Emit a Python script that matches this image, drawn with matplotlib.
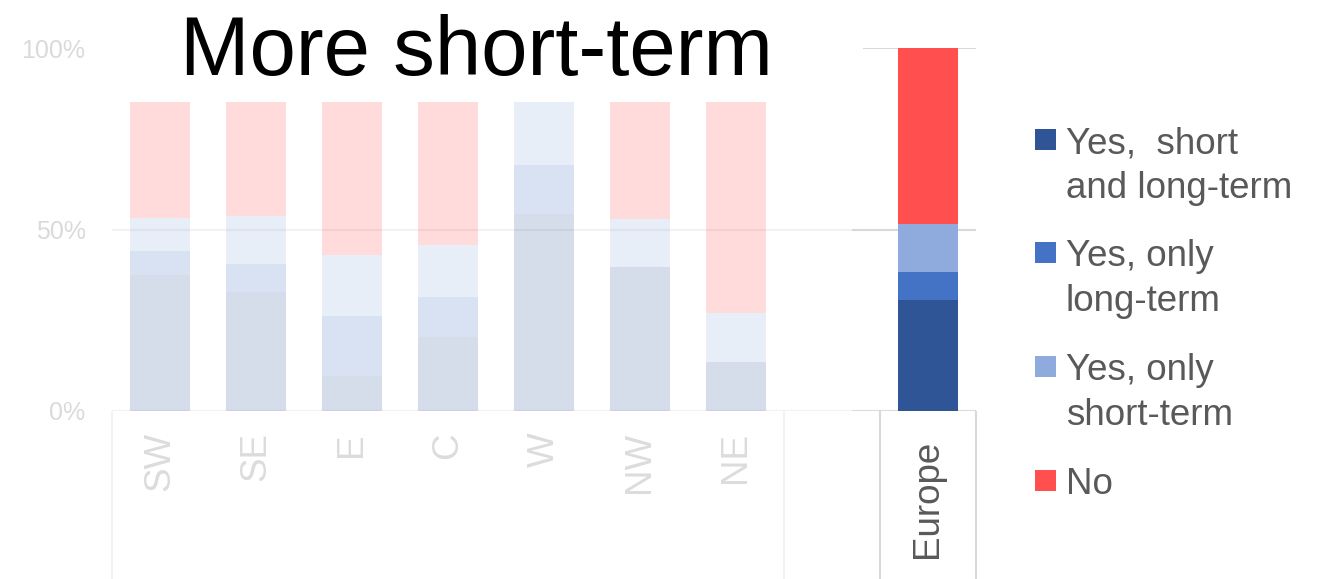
import matplotlib
matplotlib.use('Agg')
import matplotlib.pyplot as plt
from matplotlib.patches import Rectangle

plt.rcParams['font.family'] = ['Liberation Sans', 'DejaVu Sans']

# data (shares, %)
regions = ['SW', 'SE', 'E', 'C', 'W', 'NW', 'NE']
both_reg = [37.5, 32.9, 9.7, 20.5, 54.2, 39.6, 13.5]
long_reg = [6.7, 7.5, 16.6, 10.8, 13.6, 0.0, 0.0]
short_reg = [9.1, 13.3, 16.6, 14.4, 32.2, 13.2, 13.5]
no_reg = [46.7, 46.3, 57.1, 54.3, 0.0, 47.2, 73.0]

europe_label = 'Europe'
europe_vals = [30.5, 7.9, 13.2, 48.4]   # both, long only, short only, no

series_labels = ['Yes,  short\nand long-term', 'Yes, only\nlong-term',
                 'Yes, only\nshort-term', 'No']
colors = ['#2F5597', '#4472C4', '#8FAADC', '#FF4F4F']

W, H = 1324, 579
fig = plt.figure(figsize=(W / 100, H / 100), dpi=100)
ax = fig.add_axes([112 / W, (H - 411) / H, (976 - 112) / W, (411 - 48) / H])
ax.set_xlim(-0.5, 8.5)
ax.set_ylim(0, 1)
for s in ax.spines.values():
    s.set_visible(False)

# gridlines
ax.hlines([0, 0.5, 1], -0.5, 7.21, color='#F2F2F2', lw=1.5, zorder=0)
ax.hlines([0, 0.5, 1], 7.21, 8.5, color='#D9D9D9', lw=1.5, zorder=0)

# faded regional bars
bw = 0.625
xr = list(range(len(regions)))
reg_series = [both_reg, long_reg, short_reg, no_reg]
bottom = [0.0] * len(regions)
for vals, c in zip(reg_series, colors):
    v = [x / 100 for x in vals]
    ax.bar(xr, v, bw, bottom=bottom, color=c, alpha=0.2, lw=0, zorder=2)
    bottom = [b + x for b, x in zip(bottom, v)]

# europe bar
b = 0.0
for v, c in zip(europe_vals, colors):
    ax.bar(8, v / 100, bw, bottom=b, color=c, lw=0, zorder=2)
    b += v / 100

# white box behind title
ax.add_patch(Rectangle((-0.6, 0.85), 7.92, 0.6, facecolor='white',
                       edgecolor='none', zorder=5, clip_on=False))

# y ticks
ax.set_xticks([])
ax.set_yticks([0, 0.5, 1])
ax.set_yticklabels(['0%', '50%', '100%'], color='#DADADA', fontsize=18)
ax.tick_params(axis='y', length=0, pad=19)

# category separators below axis
ax.vlines([-0.5, 6.5], -0.5, 0, color='#F2F2F2', lw=1.5, clip_on=False)
ax.vlines([7.5, 8.5], -0.5, 0, color='#D9D9D9', lw=1.5, clip_on=False)

# category labels
for i, r in enumerate(regions):
    ax.text(i, -0.058, r, rotation=90, ha='center', va='top',
            color='#DCDCDC', fontsize=26.5, clip_on=False)
ax.text(8, -0.08, europe_label, rotation=90, ha='center', va='top',
        color='#595959', fontsize=26.5, clip_on=False)

# title
fig.text(476 / W, (H - 75) / H, 'More short-term', ha='center', va='baseline',
         fontsize=60, color='black', zorder=10)

# legend drawn by hand
baselines = [[153, 198], [266, 311], [380, 425], [494]]
for lab, c, bl in zip(series_labels, colors, baselines):
    lines = lab.split('\n')
    fig.add_artist(Rectangle((1035 / W, (H - bl[0] + 3) / H), 21 / W, 21 / H,
                             facecolor=c, edgecolor='none',
                             transform=fig.transFigure))
    for txt, y in zip(lines, bl):
        fig.text(1066 / W, (H - y) / H, txt, ha='left', va='baseline',
                 fontsize=26.5, color='#595959')

fig.savefig('out.png', dpi=100)
